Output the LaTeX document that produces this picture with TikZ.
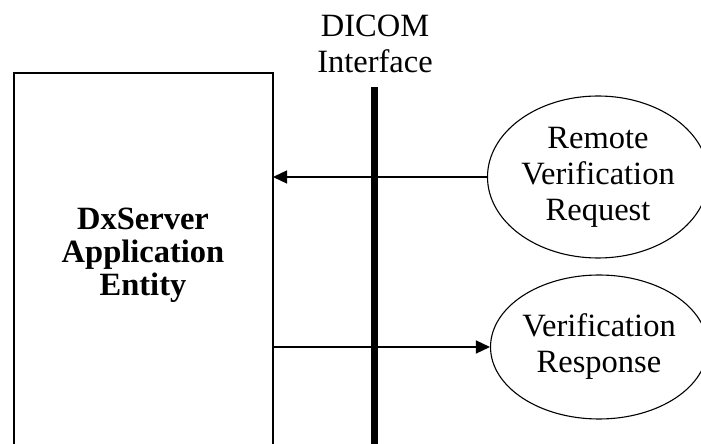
\documentclass[tikz,border=0pt]{standalone}
\usepackage{fontspec}
\setmainfont{Liberation Serif}
\usetikzlibrary{shapes.geometric,arrows.meta}

\begin{document}
\begin{tikzpicture}[x=1pt,y=1pt,
    txt/.style={font=\fontsize{32.5}{36}\selectfont, align=center, inner sep=0pt},
    role/.style={draw, ellipse, line width=1.1pt, inner sep=0pt},
    msg/.style={line width=1.3pt, -{Triangle[length=14pt,width=13pt]}}]
            \useasboundingbox (0,0) rectangle (701,444);
            \clip (0,0) rectangle (701,444);
            \draw[line width=1.3pt] (14,-5) -- (14,371) -- (273,371) -- (273,-5);
            \coordinate (entity) at (273,371);
            \node[txt, font=\fontsize{32.5}{33}\bfseries] (entitytext) at (143,189) {DxServer\\Application\\Entity};
            \node[txt] (dicom) at (375,400) {DICOM\\Interface};
            \coordinate (ifacetop) at (374,357);
            \draw[line width=7pt] (ifacetop) -- (374,-5);
            \node[role, txt, minimum width=221pt, minimum height=162pt] (request) at (598,267) {Remote\\Verification\\Request};
            \node[role, txt, minimum width=216pt, minimum height=144pt] (response) at (599,97) {Verification\\Response};
            \draw[msg] (request.west) -- (request.west -| entity);
            \draw[msg] (response.west -| entity) -- (response.west);
        \end{tikzpicture}
\end{document}
